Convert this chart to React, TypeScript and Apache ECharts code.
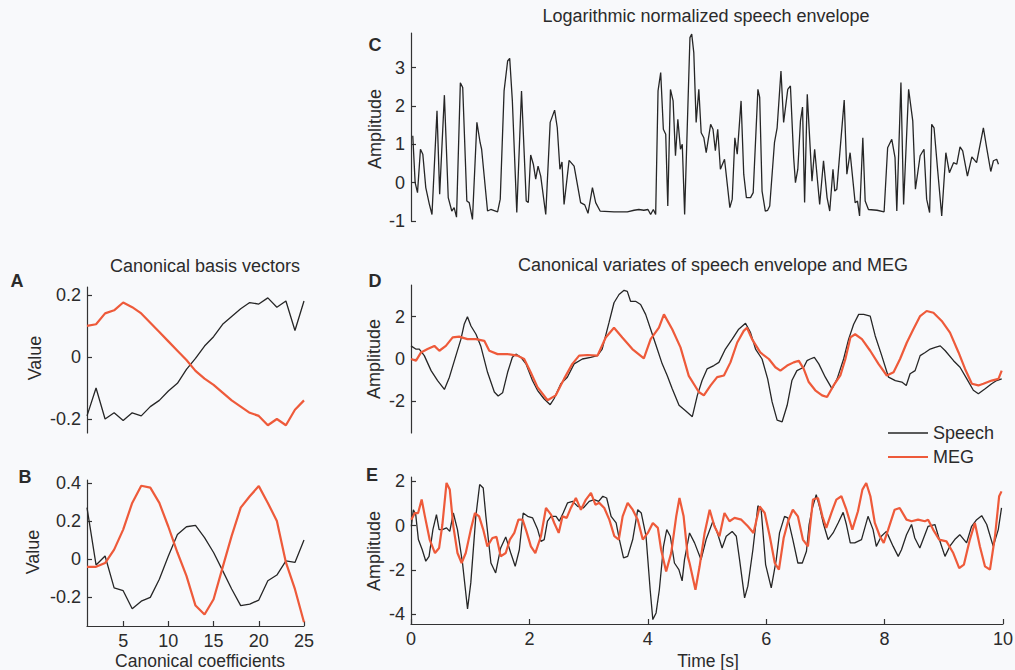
import React, { useEffect, useRef } from "react";
import * as echarts from "echarts";

// ---------- Data ----------
const coeffs = [1, 2, 3, 4, 5, 6, 7, 8, 9, 10, 11, 12, 13, 14, 15, 16, 17, 18, 19, 20, 21, 22, 23, 24, 25];

// A: canonical basis vectors
const basisSpeech = [-0.19, -0.10, -0.20, -0.18, -0.205, -0.18, -0.19, -0.16, -0.14, -0.11, -0.085, -0.04, -0.005, 0.035, 0.065, 0.105, 0.13, 0.155, 0.175, 0.17, 0.19, 0.16, 0.18, 0.085, 0.18];
const basisMeg = [0.10, 0.105, 0.14, 0.15, 0.175, 0.16, 0.14, 0.11, 0.08, 0.05, 0.02, -0.01, -0.045, -0.07, -0.09, -0.115, -0.14, -0.16, -0.18, -0.19, -0.22, -0.20, -0.22, -0.17, -0.14];

// B
const weightSpeech = [0.27, -0.03, 0.017, -0.15, -0.165, -0.26, -0.22, -0.20, -0.105, 0.017, 0.13, 0.17, 0.177, 0.113, 0.035, -0.06, -0.156, -0.243, -0.235, -0.214, -0.113, -0.083, -0.009, -0.017, 0.10];
const weightMeg = [-0.04, -0.04, -0.02, 0.05, 0.155, 0.295, 0.385, 0.375, 0.295, 0.17, 0.035, -0.087, -0.243, -0.29, -0.21, -0.043, 0.122, 0.27, 0.33, 0.383, 0.295, 0.2, -0.017, -0.157, -0.33];

// C: log normalized speech envelope
const envTime = [0.03, 0.07, 0.11, 0.16, 0.2, 0.25, 0.31, 0.355, 0.44, 0.485, 0.565, 0.63, 0.69, 0.73, 0.77, 0.835, 0.875, 0.945, 0.985, 1.04, 1.115, 1.17, 1.195, 1.295, 1.35, 1.465, 1.51, 1.575, 1.635, 1.67, 1.715, 1.79, 1.87, 1.95, 1.985, 2.025, 2.07, 2.11, 2.15, 2.195, 2.28, 2.355, 2.43, 2.475, 2.52, 2.555, 2.59, 2.675, 2.76, 2.87, 2.94, 2.995, 3.07, 3.125, 3.2, 3.435, 3.66, 3.775, 3.855, 3.94, 4.01, 4.055, 4.1, 4.14, 4.18, 4.225, 4.27, 4.31, 4.345, 4.39, 4.435, 4.475, 4.515, 4.56, 4.59, 4.63, 4.72, 4.75, 4.785, 4.825, 4.87, 4.91, 4.955, 4.995, 5.07, 5.11, 5.15, 5.19, 5.235, 5.305, 5.395, 5.435, 5.48, 5.52, 5.585, 5.63, 5.675, 5.745, 5.79, 5.87, 5.9, 5.94, 5.995, 6.035, 6.07, 6.15, 6.195, 6.26, 6.305, 6.375, 6.42, 6.475, 6.505, 6.545, 6.59, 6.625, 6.66, 6.705, 6.785, 6.83, 6.915, 6.98, 7.04, 7.085, 7.14, 7.17, 7.205, 7.33, 7.375, 7.43, 7.515, 7.555, 7.59, 7.645, 7.685, 7.74, 7.885, 8.005, 8.065, 8.135, 8.19, 8.22, 8.29, 8.335, 8.42, 8.49, 8.535, 8.615, 8.68, 8.725, 8.775, 8.81, 8.85, 8.91, 8.98, 9.05, 9.11, 9.18, 9.235, 9.29, 9.335, 9.415, 9.49, 9.57, 9.685, 9.74, 9.81, 9.855, 9.91, 9.94];
const envValue = [1.22, 0.0, -0.26, 0.87, 0.74, -0.13, -0.56, -0.83, 1.87, -0.3, 2.28, -0.39, -0.74, -0.65, -0.9, 2.6, 2.48, -0.48, -0.52, -0.96, 1.57, 1.04, 0.87, -0.74, -0.7, -0.76, -0.43, 2.39, 3.17, 3.24, 2.13, -0.78, 2.39, -0.48, -0.52, 0.72, 0.48, 0.09, 0.43, 0.17, -0.83, 1.57, 1.89, 1.43, 0.35, 0.54, -0.57, 0.58, 0.43, -0.52, -0.58, -0.8, -0.13, -0.52, -0.74, -0.76, -0.76, -0.72, -0.7, -0.72, -0.7, -0.83, -0.7, -0.83, 2.39, 2.87, 1.39, 1.26, -0.61, 2.43, 2.13, 0.7, 1.65, 0.87, 1.0, -0.83, 3.78, 3.87, 3.39, 1.57, 2.43, 1.3, 1.17, 0.78, 1.52, 1.39, 0.83, 1.39, 0.35, 0.61, -0.65, -0.43, 1.17, 0.74, 2.13, 0.22, -0.39, -0.39, -0.26, 2.43, 2.22, -0.22, -0.74, -0.72, -0.61, 1.04, 1.43, 2.91, 1.57, 2.43, 2.52, 0.65, 0.0, 0.35, 1.61, 1.97, -0.52, 2.3, 0.04, 0.87, -0.57, 0.57, -0.39, -0.74, 0.35, -0.22, -0.17, 2.15, 0.22, 0.78, -0.52, -0.48, -0.87, 1.17, -0.48, -0.7, -0.72, -0.76, 0.91, 1.13, 0.65, -0.74, 2.61, -0.57, 2.43, 1.61, -0.17, 0.7, 0.87, -0.43, -0.78, 1.52, 1.43, 0.35, -0.87, 0.78, 0.26, 0.52, 0.48, 0.93, 0.83, 0.17, 0.67, 0.52, 1.43, 0.91, 0.29, 0.57, 0.61, 0.48];

// D: canonical variates
const varSpeechTime = [0.0, 0.08, 0.14, 0.225, 0.34, 0.45, 0.565, 0.65, 0.76, 0.845, 0.9, 0.955, 1.015, 1.1, 1.18, 1.295, 1.41, 1.475, 1.55, 1.635, 1.715, 1.775, 1.86, 1.945, 2.055, 2.14, 2.25, 2.355, 2.42, 2.535, 2.645, 2.76, 2.9, 3.04, 3.155, 3.235, 3.35, 3.435, 3.52, 3.605, 3.66, 3.715, 3.8, 3.885, 3.97, 4.055, 4.14, 4.25, 4.335, 4.42, 4.535, 4.645, 4.76, 4.845, 4.925, 5.01, 5.125, 5.21, 5.32, 5.435, 5.545, 5.66, 5.745, 5.83, 5.94, 6.035, 6.11, 6.195, 6.28, 6.365, 6.445, 6.53, 6.645, 6.7, 6.755, 6.825, 6.9, 7.01, 7.125, 7.21, 7.32, 7.405, 7.49, 7.575, 7.66, 7.77, 7.855, 7.965, 8.08, 8.195, 8.305, 8.38, 8.445, 8.53, 8.615, 8.7, 8.785, 8.87, 8.955, 9.04, 9.18, 9.29, 9.405, 9.515, 9.6, 9.715, 9.825, 9.91, 9.995];
const varSpeechValue = [0.62, 0.47, 0.47, 0.16, -0.55, -1.02, -1.44, -0.86, 0.16, 0.94, 1.64, 2.0, 1.56, 1.17, 0.62, -0.63, -1.56, -1.75, -1.6, -0.63, 0.08, 0.23, 0.08, -0.23, -1.02, -1.48, -1.88, -2.16, -1.88, -1.17, -0.86, -0.23, 0.0, 0.08, 0.16, 0.47, 1.72, 2.66, 3.05, 3.25, 3.2, 2.73, 2.73, 2.58, 2.11, 1.41, 0.7, -0.23, -0.78, -1.41, -2.19, -2.45, -2.73, -1.72, -1.02, -0.47, -0.31, -0.16, 0.47, 0.94, 1.41, 1.69, 1.25, 0.47, 0.0, -0.94, -2.03, -2.89, -2.97, -2.19, -1.02, -0.55, -0.39, -0.08, 0.0, 0.08, -0.23, -0.86, -1.41, -0.94, 0.0, 0.94, 1.64, 2.11, 2.11, 2.03, 1.09, 0.16, -0.86, -1.02, -1.09, -1.25, -0.7, -0.55, 0.16, 0.31, 0.47, 0.55, 0.62, 0.39, -0.08, -0.39, -0.94, -1.48, -1.64, -1.41, -1.17, -1.02, -0.94];
const varMegTime = [0.0, 0.085, 0.17, 0.28, 0.395, 0.48, 0.59, 0.705, 0.815, 0.955, 1.1, 1.24, 1.325, 1.465, 1.635, 1.8, 1.915, 2.025, 2.14, 2.31, 2.45, 2.59, 2.73, 2.845, 2.985, 3.155, 3.295, 3.435, 3.575, 3.745, 3.94, 4.055, 4.195, 4.28, 4.42, 4.56, 4.7, 4.87, 4.955, 5.07, 5.18, 5.295, 5.405, 5.52, 5.63, 5.685, 5.77, 5.91, 6.055, 6.165, 6.25, 6.365, 6.475, 6.56, 6.645, 6.73, 6.84, 6.955, 7.04, 7.15, 7.265, 7.35, 7.435, 7.515, 7.63, 7.77, 7.91, 8.05, 8.165, 8.275, 8.39, 8.5, 8.615, 8.725, 8.84, 8.98, 9.12, 9.265, 9.375, 9.49, 9.6, 9.685, 9.825, 9.94, 9.995];
const varMegValue = [0.0, -0.08, 0.31, 0.47, 0.62, 0.39, 0.62, 1.02, 1.06, 0.94, 0.94, 0.86, 0.39, 0.23, 0.23, 0.16, 0.0, -0.63, -1.33, -1.95, -1.72, -0.94, -0.23, 0.16, 0.19, 0.16, 1.02, 1.48, 1.02, 0.47, 0.03, 0.94, 1.48, 2.11, 1.41, 0.55, -0.8, -1.56, -1.72, -1.25, -0.86, -0.78, -0.16, 0.78, 1.33, 1.48, 0.94, 0.31, 0.0, -0.39, -0.55, -0.31, -0.16, -0.08, -0.47, -1.09, -1.48, -1.72, -1.8, -1.25, -0.78, 0.0, 1.02, 1.17, 0.94, 0.39, -0.23, -0.78, -0.63, 0.0, 0.78, 1.41, 2.03, 2.27, 2.19, 1.8, 1.25, 0.31, -0.47, -1.17, -1.25, -1.17, -1.02, -0.94, -0.55];

// E
const eSpeechTime = [0.005, 0.04, 0.08, 0.125, 0.19, 0.25, 0.305, 0.37, 0.43, 0.475, 0.53, 0.6, 0.655, 0.715, 0.785, 0.87, 0.955, 1.01, 1.095, 1.16, 1.22, 1.265, 1.35, 1.43, 1.515, 1.6, 1.685, 1.76, 1.83, 1.895, 1.97, 2.055, 2.14, 2.195, 2.25, 2.305, 2.365, 2.45, 2.505, 2.57, 2.645, 2.73, 2.815, 2.91, 3.01, 3.095, 3.17, 3.24, 3.305, 3.38, 3.465, 3.52, 3.59, 3.66, 3.745, 3.83, 3.89, 3.97, 4.04, 4.085, 4.14, 4.195, 4.265, 4.32, 4.38, 4.45, 4.525, 4.58, 4.62, 4.705, 4.79, 4.9, 4.985, 5.1, 5.185, 5.255, 5.325, 5.425, 5.495, 5.55, 5.635, 5.69, 5.775, 5.86, 5.915, 5.99, 6.085, 6.17, 6.225, 6.31, 6.365, 6.45, 6.535, 6.61, 6.68, 6.725, 6.78, 6.845, 6.905, 6.97, 7.045, 7.13, 7.215, 7.3, 7.355, 7.42, 7.495, 7.61, 7.72, 7.805, 7.86, 7.945, 8.03, 8.145, 8.23, 8.285, 8.37, 8.455, 8.51, 8.595, 8.735, 8.85, 8.935, 9.02, 9.1, 9.185, 9.27, 9.385, 9.47, 9.555, 9.64, 9.725, 9.835, 9.92, 9.975];
const eSpeechValue = [-0.03, 0.72, 0.5, -0.63, -1.09, -1.61, -1.39, -0.18, 0.5, -0.18, -0.18, -0.1, -0.26, 0.57, -0.18, -1.69, -3.77, -2.59, 0.42, 1.86, 1.7, 0.42, -1.69, -2.14, -1.01, -0.51, -1.24, -1.84, -1.09, 0.57, 0.42, 0.35, -0.18, -0.71, -0.63, 0.2, 0.42, 0.42, 0.2, 0.57, 1.03, 1.1, 0.87, 0.8, 1.1, 1.18, 1.1, 1.33, 1.25, 0.42, 0.12, -0.63, -1.46, -1.39, -0.63, 0.72, 0.57, -0.48, -2.9, -4.25, -3.95, -2.9, -0.94, -0.18, -0.48, -1.69, -1.99, -2.5, -1.54, -0.33, -0.78, -1.54, -0.63, 0.2, -0.41, -1.01, -0.48, -0.26, -0.48, -1.54, -3.27, -2.74, -1.09, 0.9, 0.72, -1.76, -2.82, -1.54, -0.33, 0.42, 0.35, -0.63, -1.69, -1.69, -1.16, 0.05, 0.8, 1.4, 0.8, 0.05, -0.63, -0.33, 0.12, 0.6, 0.05, -0.78, -0.78, -0.63, 0.42, -0.18, -0.94, -0.48, -0.26, -0.94, -1.39, -1.09, -0.41, 0.05, -0.56, -1.01, -0.03, 0.05, -0.71, -1.39, -0.94, -0.63, -0.41, -0.78, -0.03, 0.27, 0.45, 0.05, -0.94, -0.18, 0.8];
const eMegTime = [0.005, 0.065, 0.12, 0.18, 0.235, 0.315, 0.405, 0.475, 0.53, 0.6, 0.655, 0.715, 0.785, 0.855, 0.925, 1.01, 1.08, 1.15, 1.22, 1.29, 1.375, 1.445, 1.515, 1.6, 1.67, 1.745, 1.815, 1.885, 1.95, 2.025, 2.1, 2.195, 2.28, 2.365, 2.42, 2.495, 2.56, 2.63, 2.7, 2.785, 2.87, 2.955, 3.04, 3.115, 3.18, 3.265, 3.35, 3.435, 3.51, 3.575, 3.66, 3.745, 3.83, 3.915, 4.0, 4.085, 4.17, 4.225, 4.31, 4.395, 4.48, 4.535, 4.605, 4.675, 4.705, 4.805, 4.875, 4.96, 5.045, 5.125, 5.21, 5.295, 5.38, 5.465, 5.58, 5.69, 5.785, 5.89, 5.975, 6.06, 6.145, 6.215, 6.295, 6.37, 6.45, 6.535, 6.62, 6.705, 6.79, 6.875, 6.95, 7.015, 7.1, 7.185, 7.27, 7.355, 7.455, 7.55, 7.625, 7.69, 7.76, 7.835, 7.92, 7.985, 8.06, 8.17, 8.255, 8.37, 8.455, 8.565, 8.68, 8.735, 8.82, 8.92, 9.045, 9.16, 9.26, 9.34, 9.44, 9.525, 9.61, 9.695, 9.78, 9.865, 9.935, 9.975];
const eMegValue = [0.27, 0.57, 0.57, 1.18, 0.42, -0.63, -1.24, -1.01, 0.05, 1.93, 1.63, -0.03, -1.24, -1.69, -1.24, -0.18, 0.57, 0.42, -0.18, -0.94, -0.56, -0.51, -1.39, -1.24, -0.63, -0.33, 0.27, 0.27, -0.26, -0.94, -1.24, -0.48, 0.8, 0.5, 0.12, -0.33, 0.42, 0.35, 0.8, 1.25, 0.72, 1.18, 1.48, 0.95, 1.03, 0.8, 0.27, -0.48, -0.63, 0.42, 1.03, 0.72, 0.27, -0.63, -0.33, 0.12, -0.1, -1.09, -2.07, -1.24, 0.42, 1.25, 0.42, -1.39, -1.69, -2.9, -1.84, -0.33, 0.72, -0.03, -0.48, 0.57, 0.2, 0.35, 0.27, -0.03, -0.33, 0.87, 0.57, -0.48, -1.69, -1.99, -0.56, 0.2, 0.72, 0.42, -0.63, -0.94, 1.18, 1.25, 0.42, -0.1, 0.57, 1.18, 1.33, 0.72, -0.18, 0.65, 1.63, 1.93, 1.33, 0.12, -0.48, -0.78, -0.18, 0.72, 0.8, 0.27, 0.2, 0.27, 0.2, 0.27, -0.18, -0.63, -0.71, -1.24, -1.92, -1.76, -0.63, 0.12, -0.94, -1.84, -1.99, -0.48, 1.33, 1.55];

// tick values
const ticksA = [-0.2, 0, 0.2];
const ticksB = [-0.2, 0, 0.2, 0.4];
const ticksBx = [5, 10, 15, 20, 25];
const ticksC = [-1, 0, 1, 2, 3];
const ticksD = [-2, 0, 2];
const ticksE = [-4, -2, 0, 2];
const ticksTime = [0, 2, 4, 6, 8, 10];

const legendNames = ["Speech", "MEG"];

// ---------- Styling ----------
const FONT = "'Liberation Sans', Arial, Helvetica, sans-serif";
const TXT = "#2b2b2b";
const AX = "#333333";
const BLACK = "#262626";
const ORANGE = "#ee5a3a";

const zip = (xs: number[], ys: number[]) => xs.map((x, i) => [x, ys[i]]);

function yAxisCfg(grid: number, min: number, max: number, ticks: number[]) {
  return {
    type: "value",
    gridIndex: grid,
    min,
    max,
    splitLine: { show: false },
    axisLine: { show: true, lineStyle: { color: AX, width: 1.2 } },
    axisTick: { show: true, inside: true, length: 5, customValues: ticks, lineStyle: { color: AX, width: 1.2 } },
    axisLabel: { show: true, customValues: ticks, color: TXT, fontSize: 18, fontFamily: FONT, margin: 6 },
  };
}

function xHidden(grid: number, min: number, max: number) {
  return { type: "value", gridIndex: grid, min, max, show: false, splitLine: { show: false } };
}

function xShown(grid: number, min: number, max: number, ticks: number[]) {
  return {
    type: "value",
    gridIndex: grid,
    min,
    max,
    splitLine: { show: false },
    axisLine: { show: true, onZero: false, lineStyle: { color: AX, width: 1.2 } },
    axisTick: { show: true, inside: true, length: 5, customValues: ticks, lineStyle: { color: AX, width: 1.2 } },
    axisLabel: { show: true, customValues: ticks, color: TXT, fontSize: 18, fontFamily: FONT, margin: 6 },
  };
}

function line(name: string, xi: number, data: number[][], color: string, width: number) {
  return {
    type: "line",
    name,
    xAxisIndex: xi,
    yAxisIndex: xi,
    data,
    showSymbol: false,
    symbol: "none",
    silent: true,
    lineStyle: { color, width },
  };
}

function txt(x: number, y: number, text: string, opts: any = {}) {
  return {
    type: "text",
    x,
    y,
    rotation: opts.rotation || 0,
    silent: true,
    style: {
      text,
      fill: TXT,
      fontSize: opts.fontSize || 18,
      fontFamily: FONT,
      fontWeight: opts.bold ? "bold" : "normal",
      textAlign: opts.align || "center",
      textVerticalAlign: "middle",
    },
  };
}

export default function App() {
  const ref = useRef<HTMLDivElement>(null);

  useEffect(() => {
    if (!ref.current) return;
    const chart = echarts.init(ref.current, null, { renderer: "svg" });
    const option: any = {
      animation: false,
      backgroundColor: "#f8f9fb",
      grid: [
        { left: 87, top: 287, width: 217, height: 146, outerBoundsMode: "none" },
        { left: 87, top: 480, width: 217, height: 146, outerBoundsMode: "none" },
        { left: 411, top: 33, width: 591, height: 188, outerBoundsMode: "none" },
        { left: 411, top: 285, width: 591, height: 148, outerBoundsMode: "none" },
        { left: 411, top: 477, width: 592, height: 147, outerBoundsMode: "none" },
      ],
      xAxis: [
        xHidden(0, 1, 25),
        xShown(1, 1, 25, ticksBx),
        xHidden(2, 0, 10),
        xHidden(3, 0, 10),
        xShown(4, 0, 10, ticksTime),
      ],
      yAxis: [
        yAxisCfg(0, -0.245, 0.225, ticksA),
        yAxisCfg(1, -0.35, 0.415, ticksB),
        yAxisCfg(2, -1.0, 3.9, ticksC),
        yAxisCfg(3, -3.5, 3.5, ticksD),
        yAxisCfg(4, -4.45, 2.2, ticksE),
      ],
      series: [
        line(legendNames[0], 0, zip(coeffs, basisSpeech), BLACK, 1.3),
        line(legendNames[1], 0, zip(coeffs, basisMeg), ORANGE, 2.2),
        line(legendNames[0], 1, zip(coeffs, weightSpeech), BLACK, 1.3),
        line(legendNames[1], 1, zip(coeffs, weightMeg), ORANGE, 2.2),
        line("Envelope", 2, zip(envTime, envValue), BLACK, 1.3),
        line(legendNames[0], 3, zip(varSpeechTime, varSpeechValue), BLACK, 1.3),
        line(legendNames[1], 3, zip(varMegTime, varMegValue), ORANGE, 2.2),
        line(legendNames[0], 4, zip(eSpeechTime, eSpeechValue), BLACK, 1.3),
        line(legendNames[1], 4, zip(eMegTime, eMegValue), ORANGE, 2.2),
      ],
      graphic: [
        txt(706, 16, "Logarithmic normalized speech envelope"),
        txt(205, 266, "Canonical basis vectors"),
        txt(713, 265, "Canonical variates of speech envelope and MEG"),
        txt(375, 45, "C", { bold: true }),
        txt(17, 281, "A", { bold: true }),
        txt(375, 281, "D", { bold: true }),
        txt(25, 477, "B", { bold: true }),
        txt(372, 475, "E", { bold: true }),
        txt(35, 358, "Value", { rotation: Math.PI / 2 }),
        txt(33, 552, "Value", { rotation: Math.PI / 2 }),
        txt(375, 129, "Amplitude", { rotation: Math.PI / 2 }),
        txt(374, 359, "Amplitude", { rotation: Math.PI / 2 }),
        txt(374, 551, "Amplitude", { rotation: Math.PI / 2 }),
        txt(200, 661, "Canonical coefficients", { fontSize: 17.5 }),
        txt(708, 661, "Time [s]", { fontSize: 17.5 }),
        {
          type: "line",
          silent: true,
          shape: { x1: 888, y1: 433, x2: 928, y2: 433 },
          style: { stroke: BLACK, lineWidth: 1.3 },
        },
        txt(933, 433, legendNames[0], { align: "left" }),
        {
          type: "line",
          silent: true,
          shape: { x1: 888, y1: 457, x2: 928, y2: 457 },
          style: { stroke: ORANGE, lineWidth: 2.2 },
        },
        txt(933, 457, legendNames[1], { align: "left" }),
      ],
    };
    chart.setOption(option);
    return () => chart.dispose();
  }, []);

  return (
    <div
      ref={ref}
      style={{ position: "fixed", left: 0, top: 0, width: 1015, height: 670 }}
    />
  );
}
